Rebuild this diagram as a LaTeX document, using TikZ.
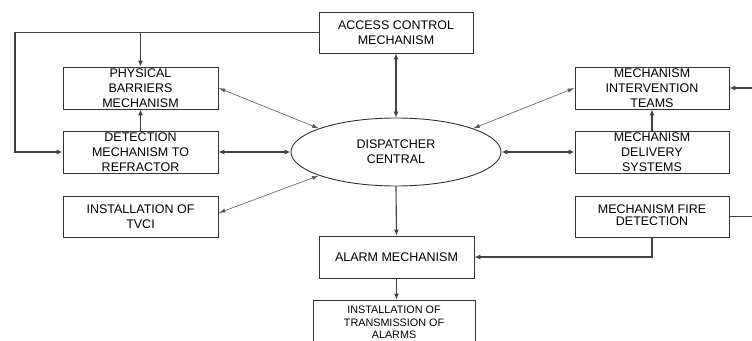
\documentclass[tikz,border=0pt]{standalone}
\usepackage{fontspec}
\setmainfont{Liberation Sans}
\usetikzlibrary{arrows.meta,shapes.geometric}

\tikzset{
  blockbox/.style={draw=black!80, line width=0.9pt, rectangle, inner sep=0pt,
    minimum width=155pt, minimum height=42pt, align=center,
    font=\fontsize{12.5}{15}\selectfont},
  smallbox/.style={blockbox, font=\fontsize{10.8}{12.5}\selectfont},
  hub/.style={draw=black!80, line width=0.9pt, ellipse, inner sep=0pt,
    minimum width=210pt, minimum height=68pt, align=center,
    font=\fontsize{12.5}{15}\selectfont},
  conn/.style={draw=black!75, line width=1.1pt},
  link/.style={draw=black!65, line width=0.6pt},
  tip/.style={-{Latex[length=6pt,width=5pt]}},
  tips/.style={{Latex[length=6pt,width=5pt]}-{Latex[length=6pt,width=5pt]}},
  thintips/.style={{Latex[length=7pt,width=4pt]}-{Latex[length=7pt,width=4pt]}}
}

\begin{document}
\begin{tikzpicture}[x=1pt,y=-1pt]
  \clip (0,0) rectangle (752,340);
  \fill[white] (0,0) rectangle (752,340);

  % central dispatcher
  \node[hub] (disp) at (396,152) {DISPATCHER\\CENTRAL};

  % top and bottom column
  \node[blockbox, minimum width=154pt, minimum height=41pt] (acc) at (396,32.5) {ACCESS CONTROL\\MECHANISM};
  \node[blockbox] (alarm) at (396.5,257) {ALARM MECHANISM};
  \node[smallbox, minimum width=162pt, minimum height=45pt] (trans) at (394,322.5) {INSTALLATION OF\\TRANSMISSION OF\\ALARMS};

  % left column
  \node[blockbox] (phys) at (140.5,88) {PHYSICAL\\BARRIERS\\MECHANISM};
  \node[blockbox] (det) at (140.5,152) {DETECTION\\MECHANISM TO\\REFRACTOR};
  \node[blockbox, minimum height=41pt] (tvci) at (140.5,216.5) {INSTALLATION OF\\TVCI};

  % right column
  \node[blockbox, minimum width=154pt] (inter) at (652,88) {MECHANISM\\INTERVENTION\\TEAMS};
  \node[blockbox, minimum width=154pt] (deliv) at (652,152) {MECHANISM\\DELIVERY\\SYSTEMS};
  \node[blockbox, minimum width=154pt, minimum height=41pt] (fire) at (652,216.5) {\raisebox{3pt}{\shortstack{MECHANISM FIRE\\DETECTION}}};

  % free ends of the outer lines
  \coordinate (lft) at (15,32.5);
  \coordinate (rin) at (752,88);
  \coordinate (rout) at (752,216.5);

  % access control feeds the left column
  \draw[conn,tip] (acc.west) -- (lft) |- (det.west);
  \draw[conn,tip] (phys.north |- acc.west) -- (phys.north);
  \draw[conn,tip] (det.north) -- (phys.south);

  % links with the dispatcher
  \draw[link,thintips] (phys.east) -- (disp.163);
  \draw[conn,tips] (det.east) -- (disp.west);
  \draw[link,thintips] ([yshift=3.5pt]tvci.east) -- (disp.197);
  \draw[conn,tips] (acc.south) -- (disp.north);
  \draw[link,thintips] (inter.west) -- (disp.17);
  \draw[conn,tips] (disp.east) -- (deliv.west);

  % downward flow
  \draw[conn,tip] (disp.south) -- (alarm.north);
  \draw[conn,tip] (alarm.south) -- (alarm.south |- trans.north);

  % right column
  \draw[conn,tip] (deliv.north) -- (inter.south);
  \draw[conn,tip] (rin) -- (inter.east);
  \draw[conn] (fire.east) -- (rout);
  \draw[conn,tip] (fire.south) |- (alarm.east);
\end{tikzpicture}
\end{document}
